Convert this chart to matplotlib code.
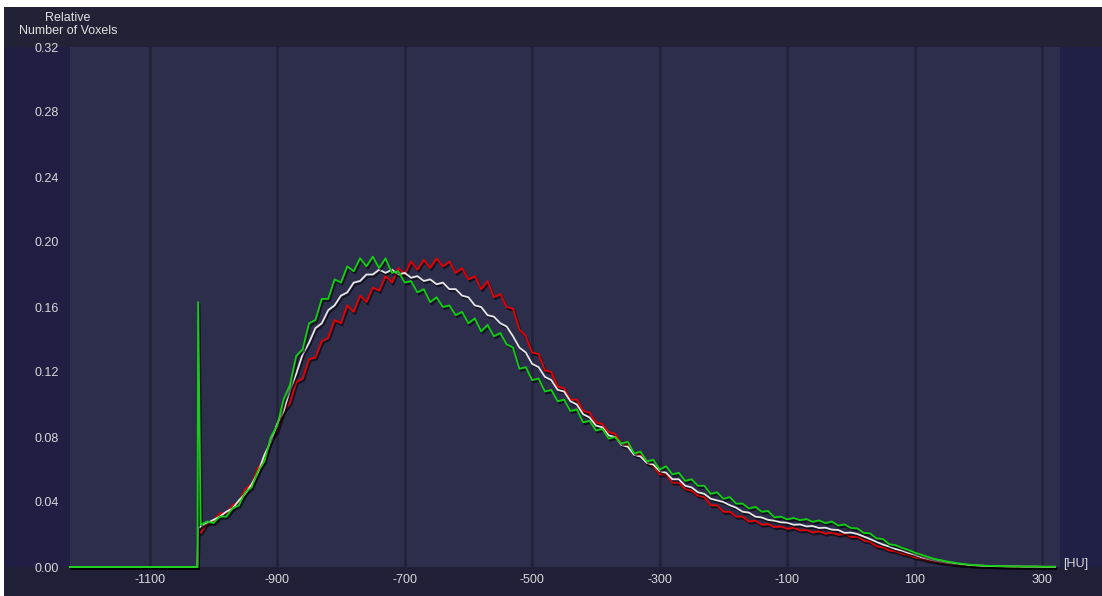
import numpy as np
import matplotlib.pyplot as plt
import matplotlib.patheffects as pe
from matplotlib.patches import Rectangle

# HU bins (10 HU step) after the air spike
hu = np.arange(-1020, 330, 10)
lead_hu = [-1225, -1025, -1024]

red_lead = [0, 0, 0.021]
red = [0.021, 0.027, 0.028, 0.033, 0.033, 0.038, 0.040, 0.048, 0.051, 0.061,
       0.066, 0.079, 0.084, 0.096, 0.101, 0.114, 0.116, 0.128, 0.129, 0.139,
       0.141, 0.152, 0.150, 0.161, 0.157, 0.167, 0.163, 0.172, 0.170, 0.179,
       0.175, 0.184, 0.180, 0.188, 0.183, 0.189, 0.184, 0.190, 0.185, 0.188,
       0.181, 0.184, 0.177, 0.179, 0.171, 0.176, 0.166, 0.168, 0.160, 0.159,
       0.146, 0.142, 0.132, 0.131, 0.121, 0.120, 0.111, 0.110, 0.103, 0.103,
       0.096, 0.095, 0.089, 0.088, 0.083, 0.082, 0.076, 0.075, 0.070, 0.069,
       0.064, 0.062, 0.057, 0.057, 0.052, 0.052, 0.048, 0.047, 0.044, 0.043,
       0.038, 0.038, 0.034, 0.034, 0.031, 0.031, 0.028, 0.0285, 0.026, 0.0265,
       0.0245, 0.025, 0.0235, 0.0242, 0.0225, 0.0228, 0.0212, 0.022, 0.0205, 0.0213,
       0.0198, 0.0205, 0.0185, 0.0186, 0.0163, 0.0155, 0.0127, 0.0121, 0.0102, 0.0097,
       0.0083, 0.0074, 0.0059, 0.0052, 0.0041, 0.0035, 0.0027, 0.0023, 0.0018, 0.0015,
       0.0012, 0.0009, 0.0008, 0.0006, 0.0005, 0.0004, 0.0003, 0.0003, 0.0002, 0.0002,
       0.0002, 0.0001, 0.0001, 0.0001, 0.0001]

white_lead = [0, 0, 0.024]
white = [0.025, 0.027, 0.029, 0.031, 0.034, 0.036, 0.041, 0.045, 0.051, 0.058,
         0.069, 0.077, 0.088, 0.096, 0.109, 0.119, 0.131, 0.138, 0.147, 0.150,
         0.158, 0.161, 0.167, 0.169, 0.175, 0.176, 0.180, 0.180, 0.183, 0.181,
         0.183, 0.180, 0.181, 0.178, 0.179, 0.176, 0.177, 0.174, 0.175, 0.171,
         0.171, 0.167, 0.166, 0.161, 0.160, 0.155, 0.154, 0.150, 0.148, 0.142,
         0.135, 0.132, 0.125, 0.123, 0.117, 0.115, 0.109, 0.108, 0.102, 0.100,
         0.094, 0.092, 0.087, 0.086, 0.081, 0.080, 0.075, 0.074, 0.069, 0.068,
         0.064, 0.063, 0.059, 0.058, 0.054, 0.054, 0.050, 0.049, 0.046, 0.045,
         0.042, 0.041, 0.040, 0.038, 0.0365, 0.034, 0.0335, 0.031, 0.0305, 0.029,
         0.0285, 0.0275, 0.0273, 0.026, 0.0262, 0.025, 0.0252, 0.024, 0.0242, 0.023,
         0.0228, 0.021, 0.0212, 0.0203, 0.0188, 0.0172, 0.0155, 0.0138, 0.0126, 0.0111,
         0.0101, 0.0087, 0.0076, 0.0061, 0.0051, 0.0041, 0.0034, 0.0027, 0.0022, 0.0018,
         0.0014, 0.0011, 0.0009, 0.0007, 0.0006, 0.0005, 0.0004, 0.0003, 0.0003, 0.0002,
         0.0002, 0.0002, 0.0001, 0.0001, 0.0001]

green_lead = [0, 0, 0.163]
green = [0.026, 0.028, 0.027, 0.031, 0.031, 0.036, 0.038, 0.046, 0.049, 0.059,
         0.065, 0.080, 0.087, 0.103, 0.112, 0.130, 0.134, 0.150, 0.152, 0.165,
         0.165, 0.177, 0.175, 0.185, 0.182, 0.190, 0.185, 0.191, 0.184, 0.190,
         0.181, 0.182, 0.175, 0.176, 0.169, 0.171, 0.163, 0.166, 0.160, 0.161,
         0.155, 0.157, 0.150, 0.153, 0.145, 0.149, 0.142, 0.144, 0.137, 0.135,
         0.122, 0.123, 0.115, 0.116, 0.108, 0.109, 0.102, 0.103, 0.096, 0.097,
         0.089, 0.090, 0.084, 0.085, 0.079, 0.080, 0.076, 0.077, 0.070, 0.071,
         0.065, 0.066, 0.060, 0.062, 0.057, 0.058, 0.053, 0.054, 0.050, 0.050,
         0.045, 0.046, 0.042, 0.043, 0.039, 0.039, 0.036, 0.037, 0.034, 0.0345,
         0.0305, 0.031, 0.0293, 0.0302, 0.0288, 0.0295, 0.0278, 0.0287, 0.027, 0.028,
         0.0255, 0.0262, 0.024, 0.0238, 0.021, 0.0207, 0.0176, 0.0172, 0.0141, 0.0134,
         0.0118, 0.0105, 0.0089, 0.0076, 0.0063, 0.0051, 0.0043, 0.0035, 0.0028, 0.0022,
         0.0017, 0.0013, 0.001, 0.0008, 0.0007, 0.0006, 0.0005, 0.0004, 0.0004, 0.0003,
         0.0003, 0.0003, 0.0002, 0.0002, 0.0002]

xticks = [-1100, -900, -700, -500, -300, -100, 100, 300]
yticks = [0.00, 0.04, 0.08, 0.12, 0.16, 0.20, 0.24, 0.28, 0.32]

W, H = 1102, 596
plt.rcParams['font.family'] = ['Liberation Sans', 'DejaVu Sans']
fig = plt.figure(figsize=(W / 100, H / 100), dpi=100, facecolor='#1f1f38')

# background panels drawn in a full-figure axes behind everything
bg = fig.add_axes([0, 0, 1, 1], zorder=-5)
bg.set_xlim(0, W)
bg.set_ylim(H, 0)
bg.axis('off')
for x0, y0, x1, y1, c in [(0, 0, W, 7, 'white'), (0, 0, 4, H, 'white'),
                          (4, 7, W, 47, '#222237'), (4, 47, 70, 567, '#201f43'),
                          (1060, 47, W, 567, '#201f45')]:
    bg.add_patch(Rectangle((x0, y0), x1 - x0, y1 - y0, color=c, lw=0))

ax = fig.add_axes([70 / W, 1 - 567 / H, 990 / W, 520 / H], zorder=2)
ax.set_facecolor('#2d2d4c')
for s in ax.spines.values():
    s.set_visible(False)

ax.set_xlim(-1225, 328)
ax.set_ylim(0, 0.32)
for t in xticks:
    ax.axvline(t, color='#222239', lw=2, zorder=1)

shadow = [pe.SimpleLineShadow(offset=(1, -1.5), shadow_color='black', alpha=0.6), pe.Normal()]
for lead, vals, col in [(red_lead, red, '#e80000'),
                        (white_lead, white, '#e6e6e6'),
                        (green_lead, green, '#10d010')]:
    ax.plot(list(lead_hu) + list(hu), list(lead) + list(vals), color=col, lw=1.3,
            path_effects=shadow, zorder=3, clip_on=False)

ax.set_xticks(xticks)
ax.set_xticklabels([str(t) for t in xticks])
ax.set_yticks(yticks)
ax.set_yticklabels(['%.2f' % v for v in yticks])
ax.tick_params(axis='both', length=0, colors='#d8d8d8', labelsize=9)
ax.tick_params(axis='x', pad=5)
ax.tick_params(axis='y', pad=8)

fig.text(68 / W, 1 - 18 / H, 'Relative', ha='center', va='center', color='#e0e0e0', fontsize=9)
fig.text(68 / W, 1 - 31 / H, 'Number of Voxels', ha='center', va='center', color='#e0e0e0', fontsize=9)
fig.text(1063 / W, 1 - 564 / H, '[HU]', ha='left', va='center', color='#d8d8d8', fontsize=9)

fig.savefig('out.png', dpi=100, facecolor=fig.get_facecolor())
